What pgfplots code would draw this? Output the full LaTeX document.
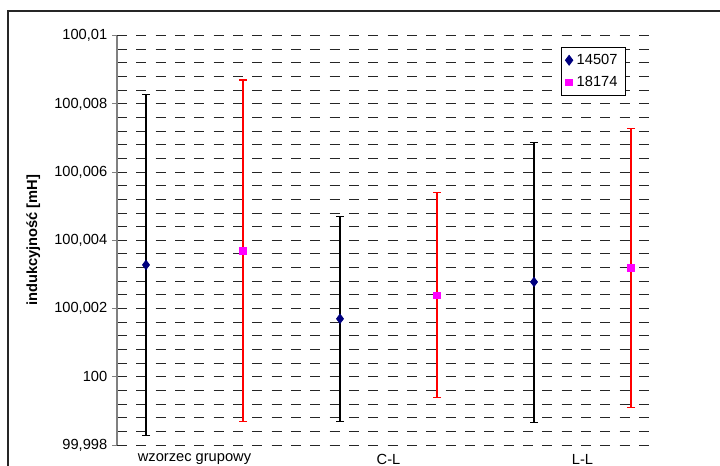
\documentclass[border=0pt]{standalone}
\usepackage{fontspec}
\setmainfont{Liberation Sans}
\usepackage{pgfplots}
\usepackage{pgfplotstable}
\pgfplotsset{compat=1.18}
\definecolor{navyb}{RGB}{0,0,128}
\definecolor{magb}{RGB}{255,0,255}
\definecolor{redb}{RGB}{255,0,0}
\definecolor{axgray}{RGB}{128,128,128}

\pgfplotstableread{
x y e
1 100.00328 0.00500
3 100.00170 0.00302
5 100.00278 0.00411
}\seriesA
\pgfplotstableread{
x y e
2 100.00369 0.00501
4 100.00239 0.00301
6 100.00319 0.00410
}\seriesB

\begin{document}
\begin{tikzpicture}
\useasboundingbox (0,0) rectangle (540pt,348.75pt);
\clip (0,0) rectangle (540pt,348.75pt);
\fill[white] (0,0) rectangle (540pt,348.75pt);
\draw[line width=1.1pt, black!85] (6pt,-5pt) -- (6pt,340.5pt) -- (550pt,340.5pt);
\begin{axis}[
  at={(87.75pt,15pt)}, anchor=south west,
  scale only axis, width=400.5pt, height=307pt,
  xmin=0.701, xmax=6.206, ymin=99.998, ymax=100.01,
  axis x line*=bottom, axis y line*=left,
  x axis line style={draw=none},
  y axis line style={-, draw=axgray, line width=1.1pt},
  ytick={99.998,100,100.002,100.004,100.006,100.008,100.01},
  yticklabels={{99,998},{100},{100,002},{100,004},{100,006},{100,008},{100,01}},
  minor y tick num=4,
  ymajorgrids, yminorgrids,
  major grid style={black!85, line width=0.75pt, dash pattern=on 7.5pt off 7pt},
  minor grid style={black!85, line width=0.75pt, dash pattern=on 7.5pt off 7pt},
  tick align=outside,
  major tick length=3.75pt, minor tick length=0pt,
  y tick style={draw=axgray, line width=0.75pt},
  xtick={1.5,3.5,5.5},
  xticklabels={wzorzec grupowy, C-L, L-L},
  x tick style={draw=none},
  xticklabel style={yshift=0.5pt},
  tick label style={font=\fontsize{11}{13}\selectfont},
  ylabel={\bfseries indukcyjność [mH]},
  every axis y label/.style={at={(axis description cs:-0.157,0.5)}, rotate=90, anchor=center, font=\fontsize{11}{13}\selectfont},
  legend style={at={(0.8315,0.9724)}, anchor=north west, draw=black, line width=0.75pt,
    font=\fontsize{11}{13}\selectfont, row sep=3.5pt, inner sep=3pt,
    nodes={inner xsep=3pt}},
  legend cell align=left,
  clip=false,
]
% error bars first (no marks), markers on top
\addplot[forget plot, color=black, only marks, mark=none,
  error bars/.cd, y dir=both, y explicit,
  error bar style={color=black, line width=0.85pt},
  error mark options={color=black, mark size=3pt, line width=0.85pt, rotate=90}]
  table[x=x, y=y, y error=e] {\seriesA};
\addplot[forget plot, color=redb, only marks, mark=none,
  error bars/.cd, y dir=both, y explicit,
  error bar style={color=redb, line width=0.85pt},
  error mark options={color=redb, mark size=3pt, line width=0.85pt, rotate=90}]
  table[x=x, y=y, y error=e] {\seriesB};
\addplot[only marks, mark=diamond*, mark size=3.6pt, color=navyb]
  table[x=x, y=y] {\seriesA};
\addlegendentry{14507}
\addplot[only marks, mark=square*, mark size=2.6pt, color=magb]
  table[x=x, y=y] {\seriesB};
\addlegendentry{18174}
\end{axis}
\end{tikzpicture}
\end{document}
